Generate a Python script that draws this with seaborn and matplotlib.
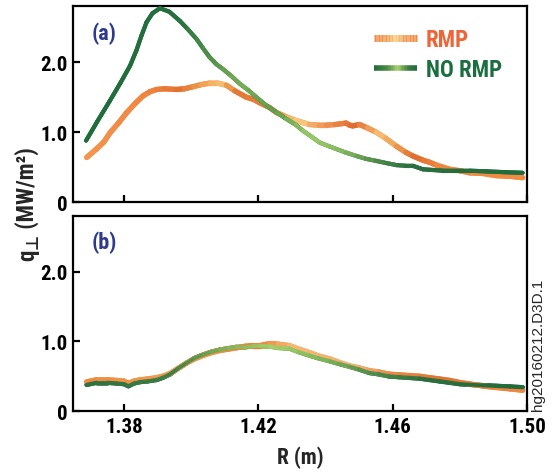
import numpy as np
import pandas as pd
import seaborn as sns
import matplotlib
matplotlib.use("Agg")
import matplotlib.pyplot as plt
from matplotlib import font_manager as fm
from matplotlib.collections import LineCollection
from matplotlib.colors import to_rgb
from matplotlib.legend_handler import HandlerBase

# ---------------- data ----------------
series_names = ["RMP", "NO RMP"]
panel_labels = ["(a)", "(b)"]
x_ticks = [1.38, 1.42, 1.46, 1.50]
x_tick_labels = ["1.38", "1.42", "1.46", "1.50"]
y_ticks = [0, 1, 2]
y_tick_labels = ["0", "1.0", "2.0"]

# panel (a) RMP
rmp_a_r = [1.3689, 1.3718, 1.3740, 1.3758, 1.3785, 1.3808, 1.3835, 1.3857, 1.3878, 1.3897, 1.3920,
           1.3956, 1.3980, 1.4006, 1.4030, 1.4055, 1.4080, 1.4105, 1.4130, 1.4164, 1.4185, 1.4204,
           1.4234, 1.4254, 1.4283, 1.4310, 1.4352, 1.4380, 1.4402, 1.4430, 1.4461, 1.4472, 1.4481,
           1.4501, 1.4525, 1.4551, 1.4580, 1.4611, 1.4640, 1.4660, 1.4690, 1.4710, 1.4730, 1.4770,
           1.4800, 1.4829, 1.4870, 1.4908, 1.4950, 1.4987]
rmp_a_q = [0.64, 0.76, 0.86, 0.99, 1.14, 1.28, 1.42, 1.52, 1.58, 1.61, 1.62,
           1.61, 1.62, 1.65, 1.68, 1.70, 1.70, 1.67, 1.59, 1.50, 1.47, 1.42,
           1.35, 1.28, 1.22, 1.17, 1.11, 1.10, 1.10, 1.11, 1.13, 1.10, 1.09,
           1.11, 1.06, 1.00, 0.91, 0.80, 0.71, 0.66, 0.60, 0.57, 0.53, 0.47,
           0.45, 0.42, 0.41, 0.38, 0.37, 0.35]

# panel (a) NO RMP
normp_a_r = [1.3687, 1.3720, 1.3758, 1.3790, 1.3818, 1.3837, 1.3852, 1.3867, 1.3885, 1.3907, 1.3935,
             1.3966, 1.3990, 1.4016, 1.4035, 1.4055, 1.4075, 1.4095, 1.4120, 1.4145, 1.4170, 1.4194,
             1.4224, 1.4255, 1.4283, 1.4310, 1.4333, 1.4360, 1.4383, 1.4410, 1.4432, 1.4460, 1.4492,
             1.4520, 1.4551, 1.4580, 1.4611, 1.4640, 1.4660, 1.4690, 1.4720, 1.4750, 1.4790, 1.4829,
             1.4880, 1.4928, 1.4987]
normp_a_q = [0.88, 1.15, 1.45, 1.71, 1.95, 2.17, 2.38, 2.57, 2.70, 2.77, 2.72,
             2.59, 2.47, 2.33, 2.20, 2.07, 1.97, 1.90, 1.80, 1.69, 1.60, 1.50,
             1.38, 1.28, 1.19, 1.11, 1.02, 0.93, 0.85, 0.80, 0.76, 0.71, 0.66,
             0.62, 0.59, 0.56, 0.53, 0.52, 0.52, 0.47, 0.46, 0.45, 0.45, 0.45,
             0.44, 0.43, 0.42]

# panel (b) RMP
rmp_b_r = [1.3689, 1.3718, 1.3750, 1.3778, 1.3800, 1.3813, 1.3830, 1.3848, 1.3870, 1.3897, 1.3915,
           1.3937, 1.3960, 1.3986, 1.4010, 1.4036, 1.4060, 1.4085, 1.4110, 1.4135, 1.4160, 1.4184,
           1.4205, 1.4234, 1.4260, 1.4293, 1.4320, 1.4352, 1.4380, 1.4412, 1.4440, 1.4471, 1.4500,
           1.4531, 1.4560, 1.4590, 1.4620, 1.4650, 1.4680, 1.4710, 1.4740, 1.4770, 1.4800, 1.4829,
           1.4870, 1.4908, 1.4950, 1.4987]
rmp_b_q = [0.42, 0.45, 0.45, 0.44, 0.43, 0.40, 0.43, 0.45, 0.46, 0.48, 0.50,
           0.54, 0.61, 0.69, 0.75, 0.80, 0.84, 0.87, 0.89, 0.91, 0.93, 0.94,
           0.94, 0.97, 0.96, 0.94, 0.89, 0.84, 0.79, 0.75, 0.70, 0.65, 0.62,
           0.58, 0.56, 0.53, 0.52, 0.51, 0.50, 0.48, 0.46, 0.44, 0.41, 0.39,
           0.36, 0.34, 0.32, 0.30]

# panel (b) NO RMP
normp_b_r = [1.3689, 1.3718, 1.3750, 1.3778, 1.3800, 1.3813, 1.3830, 1.3848, 1.3870, 1.3897, 1.3915,
             1.3937, 1.3960, 1.3986, 1.4010, 1.4036, 1.4060, 1.4085, 1.4110, 1.4135, 1.4160, 1.4184,
             1.4205, 1.4234, 1.4260, 1.4293, 1.4320, 1.4352, 1.4380, 1.4412, 1.4440, 1.4471, 1.4500,
             1.4531, 1.4560, 1.4590, 1.4620, 1.4650, 1.4680, 1.4710, 1.4740, 1.4770, 1.4800, 1.4829,
             1.4870, 1.4908, 1.4950, 1.4987]
normp_b_q = [0.38, 0.41, 0.41, 0.40, 0.39, 0.36, 0.40, 0.42, 0.43, 0.45, 0.48,
             0.53, 0.61, 0.69, 0.76, 0.81, 0.85, 0.88, 0.90, 0.92, 0.92, 0.93,
             0.93, 0.93, 0.91, 0.90, 0.85, 0.80, 0.76, 0.72, 0.68, 0.64, 0.60,
             0.55, 0.53, 0.50, 0.49, 0.48, 0.47, 0.45, 0.43, 0.41, 0.39, 0.38,
             0.37, 0.36, 0.35, 0.34]

# ---------------- style ----------------
ORANGE = "#f08a42"
GREEN = "#1f6c3b"
grad_rmp_a = [(1.365, "#f49a50"), (1.388, "#ef8440"), (1.397, "#e2722f"), (1.404, "#f1a052"),
              (1.409, "#f7c070"), (1.414, "#e27834"), (1.424, "#e9803c"), (1.432, "#f8cf80"),
              (1.438, "#f3a060"), (1.449, "#e06c2e"), (1.457, "#f7c070"), (1.467, "#df6f2e"),
              (1.476, "#f08a42"), (1.500, "#f08c42")]
grad_normp_a = [(1.365, "#1f6b3b"), (1.396, "#256f3d"), (1.405, "#4f8e48"), (1.415, "#7aae58"),
                (1.425, "#5e9c4c"), (1.436, "#9ccb66"), (1.446, "#84b85c"), (1.456, "#4c8947"),
                (1.466, "#2c6f40"), (1.500, "#1f6b3b")]
grad_rmp_b = [(1.365, "#f0883e"), (1.400, "#f2a052"), (1.410, "#f08a42"), (1.420, "#ee7a38"),
              (1.430, "#f6b870"), (1.450, "#f4b070"), (1.460, "#eb8a48"), (1.475, "#e2722f"),
              (1.500, "#f08a42")]
grad_normp_b = [(1.365, "#2b6e3e"), (1.395, "#3f7f45"), (1.410, "#7eb056"), (1.425, "#a6cf68"),
                (1.440, "#7db558"), (1.455, "#4e8a4a"), (1.470, "#2c6f40"), (1.500, "#1f6b3b")]

BLUE = "#2e3a8e"


def pick_bold_narrow():
    cands = ["Archivo Narrow", "Roboto Condensed", "PT Sans Narrow", "Fira Sans Condensed",
             "Barlow Semi Condensed", "Encode Sans Condensed", "Liberation Sans"]
    for name in cands:
        for f in fm.fontManager.ttflist:
            if f.name != name:
                continue
            w = f.weight
            if not isinstance(w, (int, float)):
                w = fm.weight_dict.get(str(w), 400)
            if w >= 600:
                return name
    return "Liberation Sans"


FONT = pick_bold_narrow()


def seg_colors(x, stops):
    xs = np.array([s[0] for s in stops])
    cs = np.array([to_rgb(s[1]) for s in stops])
    xm = (np.asarray(x)[:-1] + np.asarray(x)[1:]) / 2
    return np.stack([np.interp(xm, xs, cs[:, k]) for k in range(3)], axis=1)


def gradient_line(ax, x, y, stops, lw, z):
    pts = np.column_stack([x, y]).reshape(-1, 1, 2)
    segs = np.concatenate([pts[:-1], pts[1:]], axis=1)
    lc = LineCollection(segs, colors=seg_colors(x, stops), linewidths=lw,
                        capstyle="round", joinstyle="round", zorder=z)
    ax.add_collection(lc)


class GradHandler(HandlerBase):
    def __init__(self, stops, lw):
        super().__init__()
        self.stops = stops
        self.lw = lw

    def create_artists(self, legend, orig_handle, xdescent, ydescent, width, height, fontsize, trans):
        n = 30
        xs = np.linspace(-xdescent, -xdescent + width, n + 1)
        yc = -ydescent + height / 2
        segs = [[(xs[i], yc), (xs[i + 1], yc)] for i in range(n)]
        cols = seg_colors(np.linspace(0, 1, n + 1), self.stops)
        lc = LineCollection(segs, colors=cols, linewidths=self.lw, transform=trans, capstyle="butt")
        return [lc]


sns.set_theme(style="white")
plt.rcParams["font.family"] = [FONT, "Liberation Sans", "DejaVu Sans"]
plt.rcParams["font.weight"] = "bold"

fig = plt.figure(figsize=(5.53, 4.77), dpi=100)
ax_a = fig.add_axes([0.132, 0.574, 0.821, 0.411])
ax_b = fig.add_axes([0.132, 0.136, 0.821, 0.409])

panels = [
    (ax_a, rmp_a_r, rmp_a_q, normp_a_r, normp_a_q, grad_rmp_a, grad_normp_a, 3.8, 3.0),
    (ax_b, rmp_b_r, rmp_b_q, normp_b_r, normp_b_q, grad_rmp_b, grad_normp_b, 3.8, 3.4),
]
panel_label_y = [0.862, 0.87]

for i, (ax, rr, rq, nr, nq, gr, gn, lw_r, lw_n) in enumerate(panels):
    df_r = pd.DataFrame({"R": rr, "q": rq})
    df_n = pd.DataFrame({"R": nr, "q": nq})
    if i == 0:
        sns.lineplot(data=df_r, x="R", y="q", ax=ax, color=ORANGE, lw=lw_r, zorder=2)
        sns.lineplot(data=df_n, x="R", y="q", ax=ax, color=GREEN, lw=lw_n, zorder=3)
        gradient_line(ax, rr, rq, gr, lw_r, 2.1)
        gradient_line(ax, nr, nq, gn, lw_n, 3.1)
    else:
        sns.lineplot(data=df_n, x="R", y="q", ax=ax, color=GREEN, lw=lw_n, zorder=2)
        sns.lineplot(data=df_r, x="R", y="q", ax=ax, color=ORANGE, lw=lw_r, zorder=3)
        gradient_line(ax, nr, nq, gn, lw_n, 2.1)
        gradient_line(ax, rr, rq, gr, lw_r, 3.1)
        gradient_line(ax, nr, nq, gn, lw_n * 0.8, 3.2)

    ax.set_xlim(1.3648, 1.50)
    ax.set_ylim(0, 2.8)
    ax.set_xticks(x_ticks)
    ax.set_yticks(y_ticks)
    ax.set_yticklabels(y_tick_labels)
    ax.set_xlabel("")
    ax.set_ylabel("")
    ax.tick_params(axis="both", direction="in", length=5, width=1.6, colors="black",
                   labelsize=15, pad=4, bottom=True, left=True, top=False, right=False)
    for sp in ax.spines.values():
        sp.set_color("black")
        sp.set_linewidth(1.6)
    ax.text(0.042, panel_label_y[i], panel_labels[i], transform=ax.transAxes, color=BLUE,
            fontsize=16, fontweight="bold", ha="left", va="center")
    if i == 0:
        ax.set_xticklabels([])
    else:
        ax.set_xticklabels(x_tick_labels)
        ax.set_xlabel("R (m)", fontsize=15.5, fontweight="bold", labelpad=7)

# legend
h_r = plt.Line2D([], [], color=ORANGE)
h_n = plt.Line2D([], [], color=GREEN)
leg_r_stops = [(0.0, "#f08a42"), (0.3, "#f09a50"), (0.5, "#f8d080"), (0.7, "#f09a50"), (1.0, "#f08a42")]
leg_n_stops = [(0.0, "#1f6b3b"), (0.3, "#4a8a46"), (0.55, "#a8d06a"), (0.8, "#3c7d44"), (1.0, "#1f6b3b")]
leg = ax_a.legend([h_r, h_n], series_names, loc="upper right", bbox_to_anchor=(0.99, 0.995),
                  frameon=False, fontsize=16.5, handlelength=1.85, handletextpad=0.4,
                  labelspacing=0.3,
                  handler_map={h_r: GradHandler(leg_r_stops, 5), h_n: GradHandler(leg_n_stops, 4)})
leg.get_texts()[0].set_color("#ef6538")
leg.get_texts()[1].set_color("#1b6e3e")
for t in leg.get_texts():
    t.set_fontweight("bold")

# y label "q⊥ (MW/m²)" composed of three rotated pieces
W, H = fig.get_size_inches() * fig.dpi
base_x = 34.0          # baseline, display px
sub_shift = 4.0        # subscript lowered (rotated: to the right)
center_y = 0.572 * H
pieces = [("q", 16.5, [FONT, "DejaVu Sans"], 0.0),
          ("\u22a5", 12, ["DejaVu Sans"], sub_shift),
          (" (MW/m\u00b2)", 16.5, [FONT, "Liberation Sans", "DejaVu Sans"], 0.0)]
texts = []
for s, size, fam, dx in pieces:
    t = fig.text(0, 0, s, rotation=90, rotation_mode="anchor", ha="left", va="baseline",
                 fontsize=size, fontweight="bold", family=fam)
    texts.append((t, dx))
renderer = fig.canvas.get_renderer()
lengths = [t.get_window_extent(renderer).height for t, _ in texts]
y = center_y - sum(lengths) / 2
for (t, dx), L in zip(texts, lengths):
    t.set_position(((base_x + dx) / W, y / H))
    y += L

fig.text(0.973, 0.138, "hg20160212.D3D.1", rotation=90, ha="center", va="bottom",
         fontsize=11, fontweight="normal", family=["Liberation Sans", "DejaVu Sans"])

fig.savefig("out.png", dpi=100)
